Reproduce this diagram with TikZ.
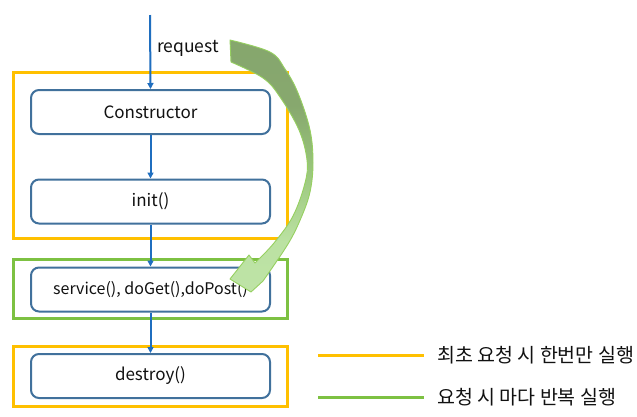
\documentclass[tikz,border=0pt]{standalone}
\usepackage{fontspec}
\setmainfont{Noto Sans CJK KR}
\usetikzlibrary{arrows.meta}
\definecolor{flowblue}{HTML}{1F6EBF}
\definecolor{boxblue}{HTML}{41719C}
\definecolor{onceorange}{HTML}{FFC000}
\definecolor{repgreen}{HTML}{7DC142}
\definecolor{txt}{HTML}{111111}
\definecolor{arrowedge}{HTML}{96D060}
\definecolor{shlight}{HTML}{C6E6B2}
\definecolor{shlight2}{HTML}{BBE2A2}
\definecolor{shmid}{HTML}{98C47A}
\definecolor{shdark}{HTML}{87A86E}
\definecolor{shdark2}{HTML}{84A46C}
\pgfdeclareverticalshading{repshade}{100bp}{%
  color(0bp)=(shlight);
  color(35bp)=(shlight2);
  color(50bp)=(shmid);
  color(62bp)=(shdark);
  color(100bp)=(shdark2)}
\begin{document}
\begin{tikzpicture}[x=1pt,y=-1pt,
  stagebox/.style={draw=boxblue,line width=2pt,rounded corners=8pt,minimum width=239pt,minimum height=44pt,inner sep=0pt,text=txt,font=\fontsize{17}{19}\selectfont},
  oncebox/.style={draw=onceorange,line width=3pt,minimum width=274pt,inner sep=0pt},
  repbox/.style={draw=repgreen,line width=3pt,minimum width=274pt,inner sep=0pt},
  flow/.style={draw=flowblue,line width=2pt,-{Triangle[length=6pt,width=6pt]}},
  legend/.style={text=txt,font=\fontsize{19.5}{21}\selectfont,anchor=west,inner sep=0pt}
]
\useasboundingbox (0,0) rectangle (637,416);
\fill[white] (0,0) rectangle (637,416);

% group frames
\node[oncebox,minimum height=166pt] (first) at (150.5,155.5) {};
\node[repbox,minimum height=59pt] (every) at (150.5,289) {};
\node[oncebox,minimum height=60pt] (last) at (150.5,376.5) {};

% stages
\node[stagebox] (cons) at (150.5,112) {Constructor};
\node[stagebox] (init) at (150.5,201.5) {init()};
\node[stagebox,font=\fontsize{16}{18}\selectfont] (serv) at (150.5,289.5) {service(), doGet(),doPost()};
\node[stagebox] (dest) at (150.5,376) {destroy()};

% request flow
\coordinate (req) at (150,15);
\node[text=txt,font=\fontsize{17.5}{19}\selectfont,anchor=west,inner sep=0pt] (reqlbl) at (157,48) {request};
\draw[flow] (req) -- (cons.north);
\draw[flow] (cons.south) -- (init.north);
\draw[flow] (init.south) -- (serv.north);
\draw[flow] (serv.south) -- (dest.north);

% curved repeat arrow
\def\reparrow{(230,40) -- plot[smooth,tension=0.6] coordinates {(230,40) (270,52) (285,69) (298,93) (310,130) (313,163) (310,192) (301,218) (288,244) (263,281)}
  -- (251,292) -- (230,279) -- (249,255) -- (255,263)
  -- plot[smooth,tension=0.6] coordinates {(255,263) (274,243) (293,216) (305,183) (307,160) (299,130) (280,97) (263,78) (231,62)}
  -- cycle}
\shade[shading=repshade] \reparrow;
\draw[draw=arrowedge,line width=0.9pt,line join=round] \reparrow;

% legend
\coordinate (l1a) at (318,355);
\coordinate (l1b) at (424,355);
\coordinate (l2a) at (318,397);
\coordinate (l2b) at (424,397);
\draw[onceorange,line width=3pt] (l1a) -- (l1b);
\draw[repgreen,line width=3pt] (l2a) -- (l2b);
\node[legend] (t1) at (437,355) {최초 요청 시 한번만 실행};
\node[legend] (t2) at (437,397) {요청 시 마다 반복 실행};
\end{tikzpicture}
\end{document}
